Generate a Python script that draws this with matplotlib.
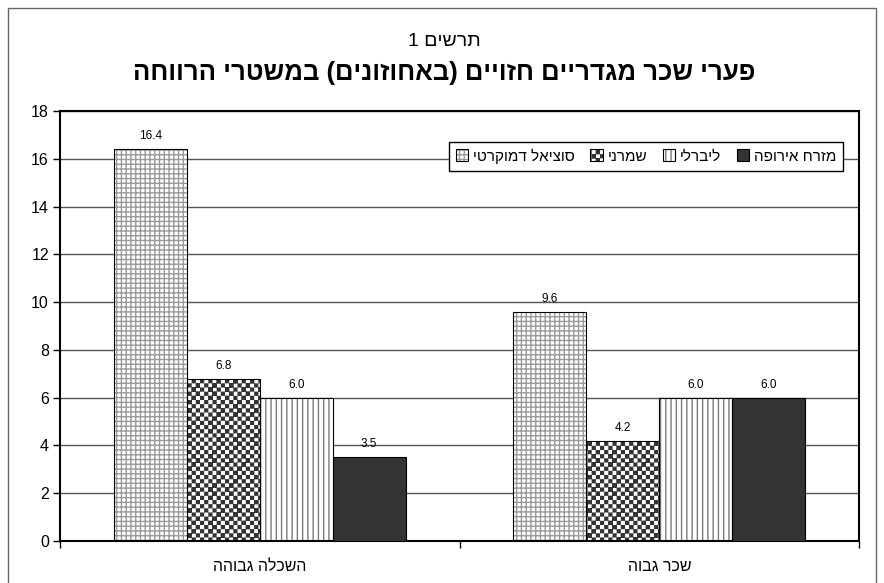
import numpy as np
import matplotlib
matplotlib.use('Agg')
import matplotlib.pyplot as plt
import matplotlib.hatch as mhatch
from matplotlib.path import Path
from matplotlib.patches import Patch, Rectangle

plt.rcParams['font.family'] = ['Liberation Sans', 'DejaVu Sans']
plt.rcParams['hatch.linewidth'] = 1.0


# matplotlib draws text left to right, so Hebrew is given in visual order
def heb(s):
    return s[::-1].translate(str.maketrans('()', ')('))


##  data
categories = ['השכלה גבוהה', 'שכר גבוה']
series = ['סוציאל דמוקרטי', 'שמרני', 'ליברלי', 'מזרח אירופה']
social_dem = [16.4, 9.6]
conservative = [6.8, 4.2]
liberal = [6.0, 6.0]
east_europe = [3.5, 6.0]
yticks = [0, 2, 4, 6, 8, 10, 12, 14, 16, 18]

title1 = heb('תרשים 1')
title2 = heb('פערי שכר מגדריים חזויים (באחוזונים) במשטרי הרווחה')


##  custom hatches: checker board, fine grid, vertical lines
class Checker(mhatch.Shapes):
    size = 1.0
    filled = True

    def __init__(self, hatch, density):
        self.num_rows = 6 if 'O' in hatch else 0
        c = 0.25
        e = 0.04
        verts = []
        codes = []
        for i in range(-2, 4):
            for j in range(0, 4):
                if (i + j) % 2 == 0:
                    x0, y0 = i * c + e, j * c + e
                    x1, y1 = (i + 1) * c - e, (j + 1) * c - e
                    verts += [(x0, y0), (x1, y0), (x1, y1), (x0, y1), (x0, y0)]
                    codes += [Path.MOVETO, Path.LINETO, Path.LINETO,
                              Path.LINETO, Path.CLOSEPOLY]
        self.shape_vertices = np.array(verts, float)
        self.shape_codes = np.array(codes, dtype=Path.code_type)
        super().__init__(hatch, density)


class GridH(mhatch.HorizontalHatch):
    def __init__(self, hatch, density):
        self.num_lines = 21 if 'o' in hatch else 0
        self.num_vertices = self.num_lines * 2


class GridV(mhatch.VerticalHatch):
    def __init__(self, hatch, density):
        self.num_lines = 21 if 'o' in hatch else 0
        self.num_vertices = self.num_lines * 2


class VLines(mhatch.VerticalHatch):
    def __init__(self, hatch, density):
        self.num_lines = 19 if '*' in hatch else 0
        self.num_vertices = self.num_lines * 2


mhatch._hatch_types[:] = [t for t in mhatch._hatch_types
                          if t not in (mhatch.SmallCircles, mhatch.LargeCircles, mhatch.Stars)]
mhatch._hatch_types += [Checker, GridH, GridV, VLines]

##  plot figure
fig = plt.figure(figsize=(8.84, 5.83), dpi=100)
ax = fig.add_axes([60 / 884, 42 / 583, 799 / 884, 430 / 583])

fig.patches.append(Rectangle((8 / 884, -0.01), 868 / 884, 1 - 8 / 583 + 0.01,
                             transform=fig.transFigure, fill=False,
                             edgecolor='#666666', linewidth=1.0))

x = np.arange(len(categories))
width = 0.1825
data = [social_dem, conservative, liberal, east_europe]
hatches = ['o', 'O', '*', None]
hcolors = ['#9a9a9a', '#333333', '#7a7a7a', None]

handles = []
for i, vals in enumerate(data):
    pos = x + (i - 1.5) * width
    if hatches[i]:
        ax.bar(pos, vals, width, color='white', edgecolor=hcolors[i],
               linewidth=0, hatch=hatches[i], zorder=2)
        h1 = Patch(facecolor='white', edgecolor=hcolors[i], linewidth=0, hatch=hatches[i])
        ax.bar(pos, vals, width, fill=False, edgecolor='black', linewidth=0.8, zorder=3)
    else:
        ax.bar(pos, vals, width, color='#333333', edgecolor='black',
               linewidth=0.8, zorder=3)
        h1 = Patch(facecolor='#333333', linewidth=0)
    h2 = Patch(fill=False, edgecolor='black', linewidth=0.8)
    handles.append((h1, h2))
    for p, v in zip(pos, vals):
        ax.annotate('%.1f' % v, (p, v), xytext=(0, 5), textcoords='offset points',
                    ha='center', va='bottom', fontsize=8.5, zorder=4)

ax.set_xlim(-0.5, 1.5)
ax.set_ylim(0, 18)
ax.set_yticks(yticks)
ax.tick_params(axis='y', direction='out', length=5, width=1, labelsize=11.5, pad=3)
ax.set_xticks([-0.5, 0.5, 1.5])
ax.set_xticklabels([])
ax.tick_params(axis='x', which='major', direction='out', length=5, width=1)
ax.set_xticks(x, minor=True)
ax.set_xticklabels([heb(c) for c in categories], minor=True)
ax.tick_params(axis='x', which='minor', length=0, labelsize=11.5, pad=13)

ax.grid(True, axis='y', color='#555555', linewidth=1.0, zorder=0)
ax.set_axisbelow(True)
for s in ax.spines.values():
    s.set_linewidth(1.5)
    s.set_color('black')

fig.text(0.503, 1 - 41 / 583, title1, ha='center', va='center', fontsize=14)
fig.text(0.503, 1 - 73 / 583, title2, ha='center', va='center', fontsize=18.5,
         fontweight='bold')

leg = ax.legend(handles, [heb(s) for s in series], ncol=4, loc='center',
                bbox_to_anchor=((646 - 60) / 799, (541 - 156) / 430),
                fontsize=11, frameon=True, fancybox=False, framealpha=1,
                edgecolor='black', handlelength=0.8, handleheight=0.8,
                handletextpad=0.3, columnspacing=1.05, borderpad=0.45,
                borderaxespad=0)
leg.get_frame().set_linewidth(1.0)

plt.savefig('out.png', dpi=100)
